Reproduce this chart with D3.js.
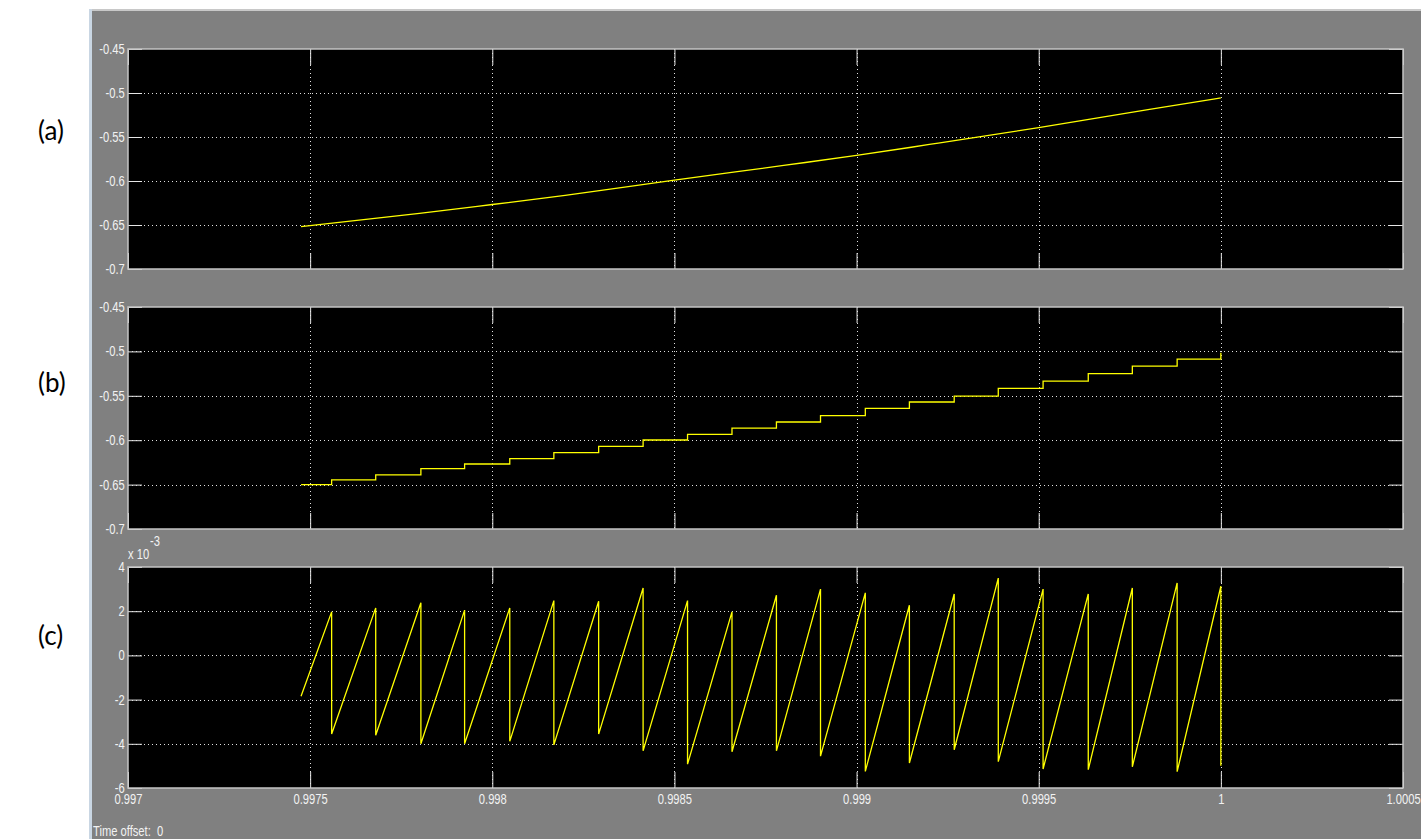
<!DOCTYPE html>
<html>
<head>
<meta charset="utf-8">
<script src="https://cdn.jsdelivr.net/npm/d3@7"></script>
<style>
  body { margin: 0; background: #ffffff; }
  .tick text { font-family: "Liberation Sans Narrow", "Arial Narrow", "Liberation Sans", sans-serif; font-size: 14px; fill: #f2f2f2; }
  .tick line { stroke: #e6e6e6; stroke-width: 1; }
  .domain { display: none; }
</style>
</head>
<body>
<div class="chart"></div>
<script>
// Values

// time axis ticks
var xTicks = [0.997, 0.9975, 0.998, 0.9985, 0.999, 0.9995, 1, 1.0005];
var xTickLabels = ["0.997", "0.9975", "0.998", "0.9985", "0.999", "0.9995", "1", "1.0005"];

// y ticks for (a) and (b), and for (c) in units of 1e-3
var yTicksAB = [-0.7, -0.65, -0.6, -0.55, -0.5, -0.45];
var yTickLabelsAB = ["-0.7", "-0.65", "-0.6", "-0.55", "-0.5", "-0.45"];
var yTicksC = [-6, -4, -2, 0, 2, 4];
var yTickLabelsC = ["-6", "-4", "-2", "0", "2", "4"];

// (a) continuous signal
var signalTimes = [0.997475, 0.9978, 0.998, 0.9982, 0.9985, 0.9988, 0.999, 0.9992, 0.9995, 0.9998, 1.0];
var signalValues = [-0.6519, -0.6369, -0.6267, -0.6163, -0.599, -0.5823, -0.571, -0.5585, -0.5393, -0.5188, -0.5055];

// (b) held / quantised signal
var startTime = 0.997475;
var stepTimes = [0.997559, 0.99768, 0.997804, 0.997924, 0.998048, 0.998169, 0.998292, 0.998414, 0.998536, 0.998658,
                 0.99878, 0.998901, 0.999024, 0.999145, 0.999268, 0.999389, 0.999512, 0.999636, 0.999757, 0.99988, 1.0];
var heldLevels = [-0.65, -0.6447, -0.6391, -0.632, -0.6268, -0.6208, -0.614, -0.6069, -0.5998, -0.5934, -0.5863,
                  -0.5795, -0.5724, -0.5641, -0.557, -0.5503, -0.5416, -0.5334, -0.5251, -0.5165, -0.5086, -0.5015];

// (c) error, x 1e-3
var errStart = -1.85;
var errPeaks = [1.97, 2.15, 2.38, 2.05, 2.15, 2.48, 2.45, 3.05, 2.48, 1.97, 2.72, 3.0, 2.83, 2.27, 2.78, 3.5, 3.0, 2.78, 3.05, 3.28, 3.13];
var errTroughs = [-3.56, -3.61, -4.0, -4.0, -3.89, -4.05, -3.56, -4.32, -4.92, -4.36, -4.32, -4.56, -5.25, -4.87, -4.27, -4.81, -5.14, -5.17, -5.04, -5.26, -4.99];

var panelNames = ["(a)", "(b)", "(c)"];

// page set-up
var svgWidth = 1421;
var svgHeight = 839;

var plotLeft = 128;
var plotRight = 1403;
var panels = [
    { top: 49, bottom: 269, nameY: 131 },
    { top: 307, bottom: 529, nameY: 383 },
    { top: 567, bottom: 788, nameY: 636 }
];

var squeeze = 0.8;
var narrow = "scale(" + squeeze + ",1)";
var scopeFont = "'Liberation Sans Narrow', 'Arial Narrow', 'Liberation Sans', sans-serif";

var svg = d3.select(".chart")
    .append("svg")
    .attr("width", svgWidth)
    .attr("height", svgHeight)
    .style("display", "block");

// window frame
svg.append("rect").attr("x", 0).attr("y", 0).attr("width", svgWidth).attr("height", svgHeight).attr("fill", "#ffffff");
svg.append("rect").attr("x", 89).attr("y", 9).attr("width", svgWidth - 89).attr("height", 3).attr("fill", "#c8c8c8");
svg.append("rect").attr("x", 89).attr("y", 9).attr("width", 3).attr("height", svgHeight - 9).attr("fill", "#c9d6e3");
svg.append("rect").attr("x", 92).attr("y", 11).attr("width", svgWidth - 92).attr("height", svgHeight - 11).attr("fill", "#808080");

var xScale = d3.scaleLinear()
    .domain([0.997, 1.0005])
    .range([plotLeft, plotRight]);

var yScales = [
    d3.scaleLinear().domain([-0.7, -0.45]).range([panels[0].bottom, panels[0].top]),
    d3.scaleLinear().domain([-0.7, -0.45]).range([panels[1].bottom, panels[1].top]),
    d3.scaleLinear().domain([-6, 4]).range([panels[2].bottom, panels[2].top])
];

var yTickSets = [yTicksAB, yTicksAB, yTicksC];
var yLabelSets = [yTickLabelsAB, yTickLabelsAB, yTickLabelsC];

panels.forEach(function(p, i) {

    var y = yScales[i];
    var yTicks = yTickSets[i];
    var yLabels = yLabelSets[i];
    var g = svg.append("g");

    g.append("rect")
        .attr("x", plotLeft)
        .attr("y", p.top)
        .attr("width", plotRight - plotLeft)
        .attr("height", p.bottom - p.top)
        .attr("fill", "#000000");

    // dotted grid
    g.selectAll(".vgrid")
        .data(xTicks.slice(1, -1))
        .enter()
        .append("line")
        .attr("x1", function(d) { return Math.round(xScale(d)) + 0.5; })
        .attr("x2", function(d) { return Math.round(xScale(d)) + 0.5; })
        .attr("y1", p.top)
        .attr("y2", p.bottom)
        .attr("stroke", "#e0e0e0")
        .attr("stroke-dasharray", "1,3");

    g.selectAll(".hgrid")
        .data(yTicks.slice(1, -1))
        .enter()
        .append("line")
        .attr("x1", plotLeft)
        .attr("x2", plotRight)
        .attr("y1", function(d) { return Math.round(y(d)) + 0.5; })
        .attr("y2", function(d) { return Math.round(y(d)) + 0.5; })
        .attr("stroke", "#e0e0e0")
        .attr("stroke-dasharray", "1,3");

    // inward ticks on all four sides
    g.append("g")
        .attr("transform", "translate(" + plotLeft + ",0)")
        .call(d3.axisLeft(y).tickValues(yTicks).tickSizeInner(-14).tickSizeOuter(0).tickPadding(4)
            .tickFormat(function(d, k) { return yLabels[k]; }))
        .selectAll("text")
        .attr("transform", narrow);

    g.append("g")
        .attr("transform", "translate(" + plotRight + ",0)")
        .call(d3.axisRight(y).tickValues(yTicks).tickSizeInner(-14).tickSizeOuter(0).tickFormat(""));

    g.append("g")
        .attr("transform", "translate(0," + p.top + ")")
        .call(d3.axisTop(xScale).tickValues(xTicks).tickSizeInner(-16).tickSizeOuter(0).tickFormat(""));

    g.append("g")
        .attr("transform", "translate(0," + p.bottom + ")")
        .call(d3.axisBottom(xScale).tickValues(xTicks).tickSizeInner(-16).tickSizeOuter(0).tickPadding(6)
            .tickFormat(function(d, k) { return i === 2 ? xTickLabels[k] : ""; }))
        .selectAll("text")
        .attr("transform", narrow);

    g.append("rect")
        .attr("x", plotLeft)
        .attr("y", p.top)
        .attr("width", plotRight - plotLeft)
        .attr("height", p.bottom - p.top)
        .attr("fill", "none")
        .attr("stroke", "#c4c4c4")
        .attr("stroke-width", 1.5);

    // panel name on the white margin
    svg.append("text")
        .attr("x", 38)
        .attr("y", p.nameY)
        .attr("dy", "0.35em")
        .attr("font-family", "Lato, 'Open Sans', sans-serif")
        .attr("font-size", "26px")
        .attr("fill", "#000000")
        .text(panelNames[i]);
});

// (a) signal
var lineA = d3.line()
    .curve(d3.curveMonotoneX)
    .x(function(d) { return xScale(d[0]); })
    .y(function(d) { return yScales[0](d[1]); });

svg.append("path")
    .datum(signalTimes.map(function(t, k) { return [t, signalValues[k]]; }))
    .attr("d", lineA)
    .attr("fill", "none")
    .attr("stroke", "#ffff00")
    .attr("stroke-width", 1.3);

// (b) staircase
var heldData = [[startTime, heldLevels[0]]];
stepTimes.forEach(function(t, k) {
    heldData.push([t, heldLevels[k + 1]]);
});

var lineB = d3.line()
    .curve(d3.curveStepAfter)
    .x(function(d) { return xScale(d[0]); })
    .y(function(d) { return yScales[1](d[1]); });

svg.append("path")
    .datum(heldData)
    .attr("d", lineB)
    .attr("fill", "none")
    .attr("stroke", "#ffff00")
    .attr("stroke-width", 1.3);

// (c) sawtooth error
var errData = [[startTime, errStart]];
stepTimes.forEach(function(t, k) {
    errData.push([t, errPeaks[k]]);
    errData.push([t, errTroughs[k]]);
});

var lineC = d3.line()
    .x(function(d) { return xScale(d[0]); })
    .y(function(d) { return yScales[2](d[1]); });

svg.append("path")
    .datum(errData)
    .attr("d", lineC)
    .attr("fill", "none")
    .attr("stroke", "#ffff00")
    .attr("stroke-width", 1.3);

// exponent label above (c)
var expText = svg.append("text")
    .attr("x", 128 / squeeze)
    .attr("y", 559)
    .attr("transform", narrow)
    .attr("font-family", scopeFont)
    .attr("font-size", "14px")
    .attr("fill", "#f2f2f2")
    .text("x 10");

expText.append("tspan")
    .attr("dx", 1)
    .attr("dy", -13)
    .text("-3");

svg.append("text")
    .attr("x", 93 / squeeze)
    .attr("y", 836)
    .attr("transform", narrow)
    .attr("font-family", scopeFont)
    .attr("font-size", "14px")
    .attr("fill", "#f2f2f2")
    .attr("xml:space", "preserve")
    .text("Time offset:  0");
</script>
</body>
</html>
